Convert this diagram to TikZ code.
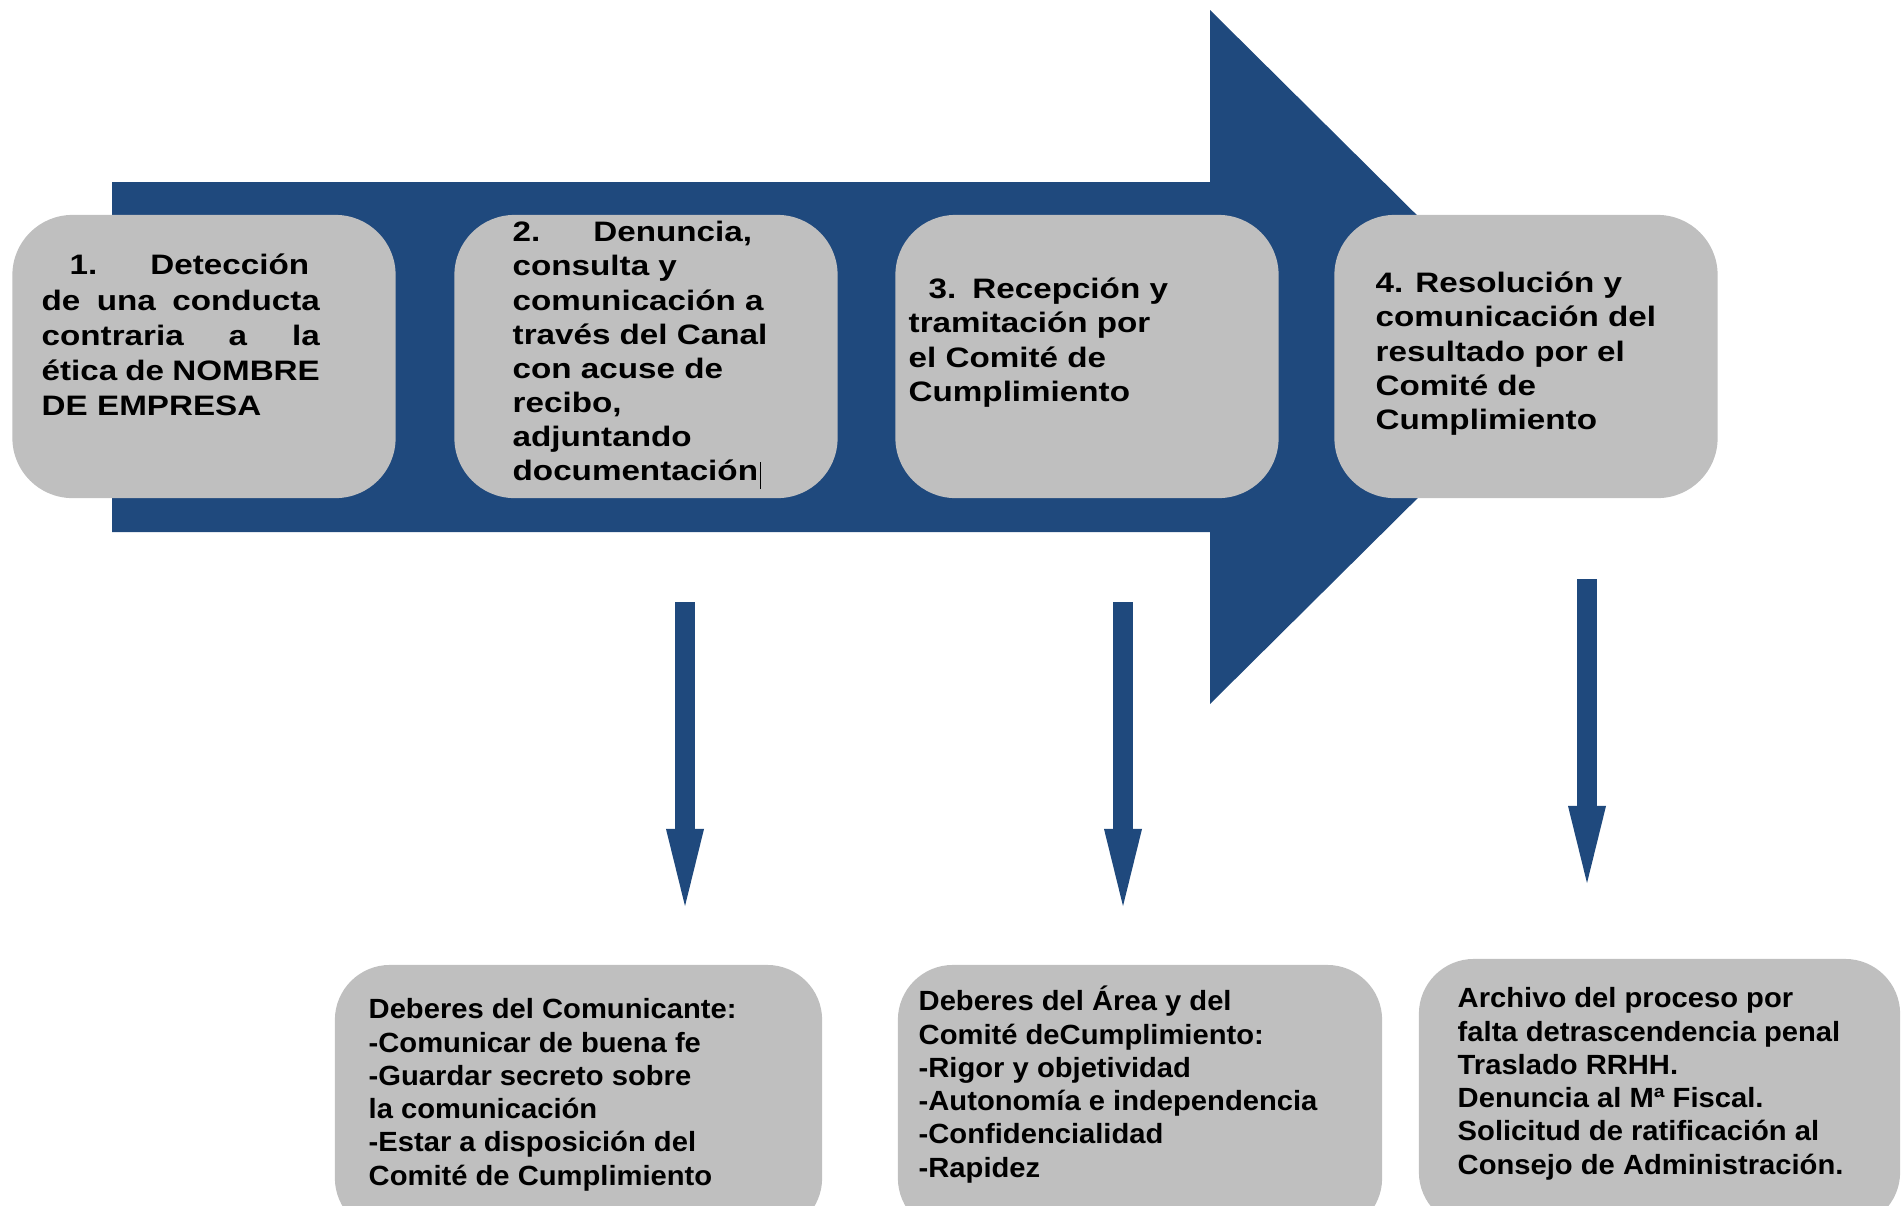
\documentclass[tikz,border=0pt]{standalone}
\usepackage{fontspec}
\newfontfamily\cajafont[FakeStretch=1.18]{Liberation Sans}
\newfontfamily\notafont[FakeStretch=1.05]{Liberation Sans}
\usetikzlibrary{arrows.meta}
\definecolor{azulflecha}{RGB}{31,73,125}
\definecolor{griscaja}{RGB}{191,191,191}

\begin{document}
\begin{tikzpicture}[x=0.01cm, y=-0.01cm,
    paso/.style={fill=griscaja, rounded corners=0.6cm, inner sep=0pt,
        minimum width=3.83cm, minimum height=2.83cm},
    nota/.style={fill=griscaja, rounded corners=0.55cm, inner sep=0pt,
        minimum height=2.68cm},
    textopaso/.style={anchor=north west, inner sep=0pt, align=left,
        font=\cajafont\bfseries\fontsize{8}{9.7}\selectfont},
    textonota/.style={anchor=north west, inner sep=0pt, align=left,
        font=\notafont\bfseries\fontsize{7.9}{9.45}\selectfont},
    bajada/.style={azulflecha, line width=0.2cm,
        -{Triangle[width=0.38cm, length=0.77cm, line width=0pt]}}]

    % Marco de la imagen
    \useasboundingbox (0,0) rectangle (1903,1205);
    \clip (0,0) rectangle (1903,1205);

    % Flecha grande de fondo
    \coordinate (F1) at (112,182);
    \coordinate (F2) at (1210,182);
    \coordinate (F3) at (1210,10);
    \coordinate (F4) at (1560,357);
    \coordinate (F5) at (1210,704);
    \coordinate (F6) at (1210,532);
    \coordinate (F7) at (112,532);
    \fill[azulflecha] (F1) -- (F2) -- (F3) -- (F4) -- (F5) -- (F6) -- (F7) -- cycle;

    % Cajas de los pasos
    \foreach \n/\x in {1/204,2/646,3/1087,4/1526}
        \node[paso] (paso\n) at (\x,356.5) {};

    \node[textopaso, text width=2.78cm, font=\cajafont\bfseries\fontsize{8}{10}\selectfont]
        (texto1) at (41,246)
        {\rule{0pt}{8pt}\hspace*{0.28cm}1.\hspace{0.53cm}Detección\\
         de\hfill una\hfill conducta\\
         contraria\hfill a\hfill la\\
         ética\hfill de\hfill NOMBRE\\
         DE EMPRESA};
    \node[textopaso] (texto2) at (512,213)
        {\rule{0pt}{8pt}2.\hspace{0.53cm}Denuncia,\\ consulta y\\ comunicación a\\
         través del Canal\\ con acuse de\\ recibo,\\ adjuntando\\
         documentación\hspace{0.5pt}\rule[-2.4pt]{0.4pt}{7.6pt}};
    \node[textopaso] (texto3) at (908,270)
        {\rule{0pt}{8pt}\hspace*{0.2cm}3.\hspace{0.16cm}Recepción y\\ tramitación por\\
         el Comité de\\ Cumplimiento};
    \node[textopaso] (texto4) at (1375,264)
        {\rule{0pt}{8pt}4.\hspace{0.12cm}Resolución y\\ comunicación del\\
         resultado por el\\ Comité de\\ Cumplimiento};

    % Flechas hacia abajo
    \foreach \n/\x/\ya/\yb in {1/685/602/906, 2/1123/602/906, 3/1587/579/883} {
        \coordinate (ini\n) at (\x,\ya);
        \coordinate (fin\n) at (\x,\yb);
        \draw[bajada] (ini\n) -- (fin\n);
    }

    % Cajas de deberes y resultado
    \node[nota, minimum width=4.87cm] (nota1) at (578.5,1099) {};
    \node[nota, minimum width=4.84cm] (nota2) at (1140,1099) {};
    \node[nota, minimum width=4.81cm] (nota3) at (1659.5,1093) {};

    \node[textonota] (deberes1) at (368,990)
        {\rule{0pt}{8pt}Deberes del Comunicante:\\ -Comunicar de buena fe\\
         -Guardar secreto sobre\\ la comunicación\\
         -Estar a disposición del\\ Comité de Cumplimiento};
    \node[textonota] (deberes2) at (918,982)
        {\rule{0pt}{8pt}Deberes del Área y del\\ Comité deCumplimiento:\\
         -Rigor y objetividad\\ -Autonomía e independencia\\
         -Confidencialidad\\ -Rapidez};
    \node[textonota] (resultado) at (1457,979)
        {\rule{0pt}{8pt}Archivo del proceso por\\ falta detrascendencia penal\\
         Traslado RRHH.\\ Denuncia al Mª Fiscal.\\
         Solicitud de ratificación al\\ Consejo de Administración.};
\end{tikzpicture}
\end{document}
